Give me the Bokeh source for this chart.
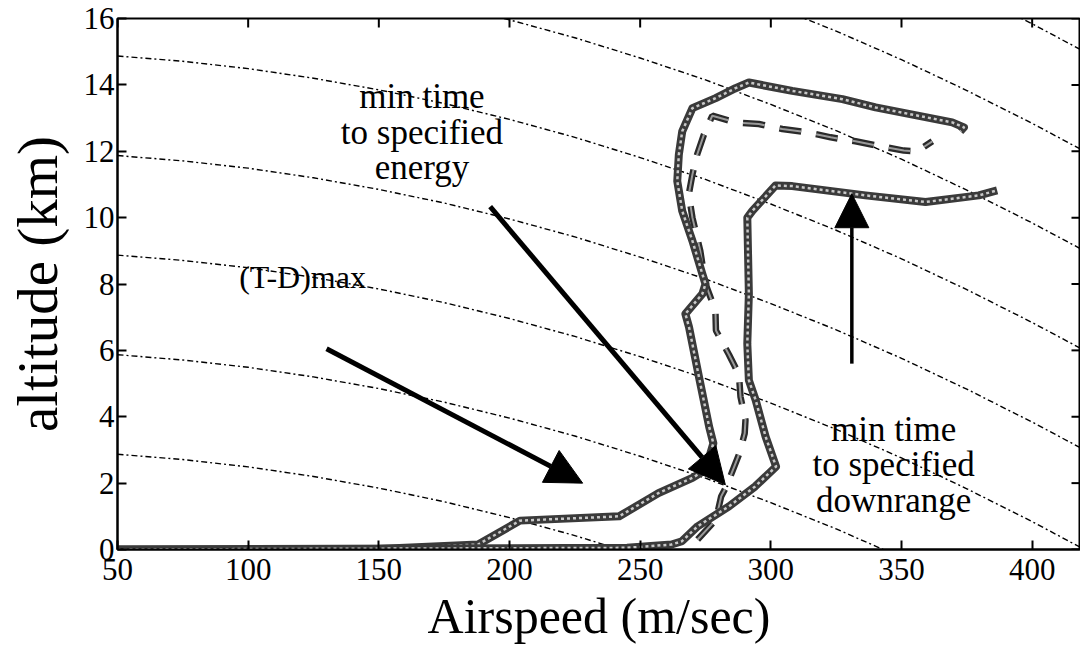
import math
from bokeh.plotting import figure
from bokeh.models import Range1d, FixedTicker, Arrow, NormalHead
from bokeh.core.properties import value
from bokeh.embed import file_html
from bokeh.resources import INLINE

# ---------------- data ----------------
X_TICKS = [50, 100, 150, 200, 250, 300, 350, 400]
Y_TICKS = [0, 2, 4, 6, 8, 10, 12, 14, 16]
X_MIN, X_MAX = 50, 418.5
Y_MIN, Y_MAX = 0, 16

# constant-energy contours: energy level (km) and height drop below level vs airspeed
ENERGY_LEVELS = [3, 6, 9, 12, 15, 18, 21, 24]
CONTOUR_SPEED = [50, 75, 100, 125, 150, 175, 200, 225, 250, 275, 300, 325, 350, 375, 400, 425]
CONTOUR_DROP = [0.13, 0.29, 0.51, 0.80, 1.15, 1.56, 2.04, 2.58, 3.19, 3.85, 4.59, 5.38, 6.24, 7.17, 8.16, 9.21]

# (T-D)max path
TD_SPEED = [50, 145, 188, 204, 242, 257, 270, 275, 278, 276.4, 272.5, 268.7, 267.3, 273.8, 275,
            273.8, 270, 266.1, 264.2, 264.8, 266.1, 270, 278.9, 286.5, 291.6, 308.2, 327.4, 340.1,
            369.4, 373.9, 372.5]
TD_ALT = [0, 0, 0.15, 0.87, 1.0, 1.7, 2.16, 2.4, 3.2, 3.7, 5.2, 6.7, 7.1, 7.7, 8.0,
          8.3, 9.3, 10.2, 11.1, 11.9, 12.6, 13.3, 13.6, 13.9, 14.07, 13.82, 13.57, 13.32,
          12.87, 12.72, 12.6]

# min time to specified downrange path
DR_SPEED = [50, 245, 262, 266, 272, 284, 294, 302, 298, 294.2, 291.6, 291, 291.6, 291, 292.9,
            301.8, 308.2, 336.2, 359.2, 379.6, 386.6]
DR_ALT = [0, 0.05, 0.15, 0.25, 0.7, 1.3, 1.9, 2.5, 3.4, 4.5, 5.1, 6.2, 7.7, 10.0, 10.2,
          10.97, 10.95, 10.67, 10.47, 10.67, 10.82]

# min time to specified energy path (dashed)
EN_SPEED = [272, 279, 281, 283, 286, 288, 290, 290.3, 288.4, 287.8, 284, 279, 278.8, 275, 273,
            270, 268.6, 270, 271.8, 274.4, 277.6, 286.5, 295.4, 304.4, 314, 322.9, 332.4, 340.7,
            350.9, 356, 361.8]
EN_ALT = [0.3, 0.9, 1.6, 1.9, 2.5, 2.9, 3.5, 3.9, 4.6, 5.27, 5.87, 6.6, 7.2, 8.0, 9.0,
          10.0, 10.7, 11.3, 11.9, 12.5, 13.07, 12.87, 12.82, 12.67, 12.57, 12.42, 12.3, 12.17,
          12.02, 12.0, 12.3]

# annotation texts (lines) and their anchor points (speed, altitude)
NOTE_TEXT = ["min time", "to specified", "energy",
             "(T-D)max",
             "min time", "to specified", "downrange"]
NOTE_SPEED = [166.5, 166.5, 166.5, 120.8, 347.0, 347.0, 347.0]
NOTE_ALT = [13.66, 12.58, 11.50, 8.22, 3.63, 2.55, 1.47]
NOTE_SIZE = ["35px", "35px", "35px", "32px", "35px", "35px", "35px"]

# arrows: tail (speed, alt) -> head (speed, alt)
ARROW_TAIL_SPEED = [130.0, 192.6, 331.0]
ARROW_TAIL_ALT = [6.05, 10.33, 5.6]
ARROW_HEAD_SPEED = [228.0, 282.6, 331.0]
ARROW_HEAD_ALT = [2.0, 1.95, 10.72]
ARROW_WIDTH = [5, 5, 3.5]

SERIF = "Liberation Serif"

# ---------------- figure ----------------
p = figure(width=1080, height=648, output_backend="svg", toolbar_location=None,
           x_range=Range1d(X_MIN, X_MAX), y_range=Range1d(Y_MIN, Y_MAX),
           min_border_left=117, min_border_right=0, min_border_top=18, min_border_bottom=99,
           background_fill_color="white", border_fill_color="white")
p.grid.visible = False
p.outline_line_color = "black"
p.outline_line_width = 2

for ax in (p.xaxis[0], p.yaxis[0]):
    ax.axis_line_width = 2
    ax.axis_line_color = "black"
    ax.major_tick_in = 9
    ax.major_tick_out = 0
    ax.major_tick_line_width = 2
    ax.minor_tick_line_color = None
    ax.major_label_text_font = SERIF
    ax.major_label_text_color = "black"
    ax.major_label_text_font_size = "31px"
    ax.axis_label_text_font = SERIF
    ax.axis_label_text_font_style = "normal"
    ax.axis_label_text_color = "black"

p.xaxis.ticker = FixedTicker(ticks=X_TICKS)
p.yaxis.ticker = FixedTicker(ticks=Y_TICKS)
p.xaxis.major_label_standoff = 9
p.yaxis.major_label_standoff = 3
p.xaxis.axis_label = "Airspeed (m/sec)"
p.yaxis.axis_label = "altitude (km)"
p.xaxis.axis_label_text_font_size = "50px"
p.yaxis.axis_label_text_font_size = "57px"
p.xaxis.axis_label_standoff = 5
p.yaxis.axis_label_standoff = 12

# inward ticks on the top and right frame edges
p.scatter(X_TICKS, [Y_MAX] * len(X_TICKS), marker="dash", angle=math.pi / 2, size=18,
          line_color="black", line_width=2)
p.scatter([X_MAX] * len(Y_TICKS), Y_TICKS, marker="dash", size=18,
          line_color="black", line_width=2)

# energy contours
for level in ENERGY_LEVELS:
    p.line(CONTOUR_SPEED, [level - d for d in CONTOUR_DROP],
           line_color="black", line_width=1.4, line_dash="6 3 2 3")

# dashed min-time-to-energy path
p.line(EN_SPEED, EN_ALT, line_color="#2a2a2a", line_width=6.5, line_dash="22 15")
p.line(EN_SPEED, EN_ALT, line_color="#9a9a9a", line_width=2, line_dash="22 15")

# thick hatched paths
for xs, ys in ((TD_SPEED, TD_ALT), (DR_SPEED, DR_ALT)):
    p.line(xs, ys, line_color="#3a3a3a", line_width=8, line_join="round")
    p.line(xs, ys, line_color="#c8c8c8", line_width=2.5, line_dash="3 3", line_join="round")

# arrows
for xs, ys, xe, ye, w in zip(ARROW_TAIL_SPEED, ARROW_TAIL_ALT, ARROW_HEAD_SPEED, ARROW_HEAD_ALT, ARROW_WIDTH):
    p.add_layout(Arrow(end=NormalHead(size=36 if w > 4 else 34, fill_color="black",
                                      line_color="black", line_width=1),
                       x_start=xs, y_start=ys, x_end=xe, y_end=ye,
                       line_color="black", line_width=w))

# annotation texts
for t, x, y, s in zip(NOTE_TEXT, NOTE_SPEED, NOTE_ALT, NOTE_SIZE):
    p.text(x=[x], y=[y], text=[t], text_font=value(SERIF),
           text_font_size=value(s), text_align="center", text_baseline="alphabetic",
           text_color="black")

open("out.html", "w").write(file_html(p, INLINE))
